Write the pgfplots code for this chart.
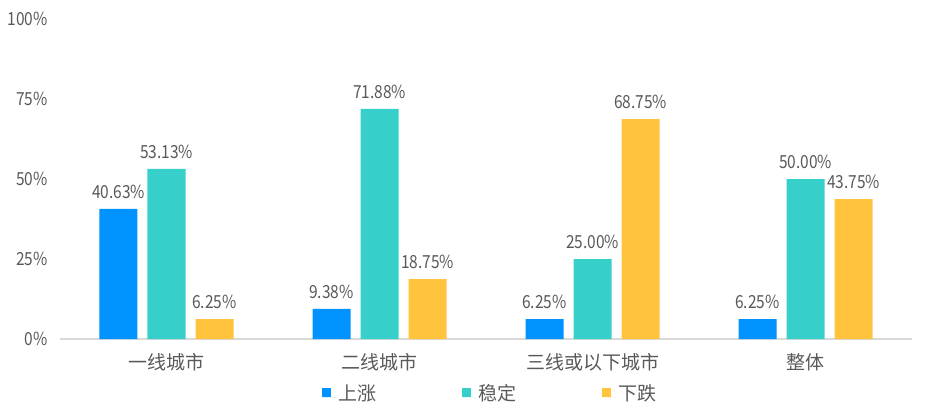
\documentclass[border=0pt]{standalone}
\usepackage{fontspec}
\setmainfont{Noto Sans CJK SC}
\newfontfamily\numfont[FakeStretch=0.86]{Noto Sans CJK SC}
\usepackage{pgfplots}
\pgfplotsset{compat=1.18}
\definecolor{cblue}{RGB}{0,146,255}
\definecolor{cteal}{RGB}{54,207,201}
\definecolor{cyellow}{RGB}{255,195,61}
\definecolor{txt}{RGB}{89,89,89}
\definecolor{axl}{RGB}{217,217,217}
\begin{document}
\begin{tikzpicture}[x=1pt,y=1pt]
\useasboundingbox (-60,-74) rectangle (866,339);
\begin{axis}[
  at={(0,0)}, anchor=south west,
  scale only axis, width=852pt, height=320pt,
  ymin=0, ymax=100, xmin=-0.5, xmax=3.5,
  ybar=10pt, bar width=38pt,
  axis x line*=bottom, axis y line*=left,
  y axis line style={draw=none},
  x axis line style={draw=axl, line width=1.5pt, -},
  major tick length=0pt,
  /pgf/number format/assume math mode=true,
  ytick={0,25,50,75,100},
  yticklabels={0\%,25\%,50\%,75\%,100\%},
  xtick={0,1,2,3},
  xticklabels={一线城市,二线城市,三线或以下城市,整体},
  yticklabel style={font=\numfont\fontsize{18}{21}\selectfont, text=txt, xshift=-9pt},
  xticklabel style={font=\fontsize{19}{22}\selectfont, text=txt, yshift=-11pt},
  clip=false,
  nodes near coords={\pgfmathprintnumber[fixed,fixed zerofill,precision=2,assume math mode=true]{\pgfplotspointmeta}\%},
  every node near coord/.append style={font=\numfont\fontsize{18}{21}\selectfont, text=txt, anchor=south, yshift=7pt},
  legend columns=3,
  legend style={at={(0.5047,-0.169)}, anchor=center, draw=none, fill=none,
    font=\fontsize{19}{22}\selectfont, text=txt,
    /tikz/every even column/.append style={column sep=84pt}},
  legend image code/.code={\fill[#1] (0pt,-4pt) rectangle (9pt,5pt); \path (0pt,-4pt) -- (14pt,-4pt);},
]
\addplot[fill=cblue, draw=none] coordinates {(0,40.63) (1,9.38) (2,6.25) (3,6.25)};
\addplot[fill=cteal, draw=none] coordinates {(0,53.13) (1,71.88) (2,25.00) (3,50.00)};
\addplot[fill=cyellow, draw=none] coordinates {(0,6.25) (1,18.75) (2,68.75) (3,43.75)};
\legend{上涨,稳定,下跌}
\end{axis}
\end{tikzpicture}
\end{document}
